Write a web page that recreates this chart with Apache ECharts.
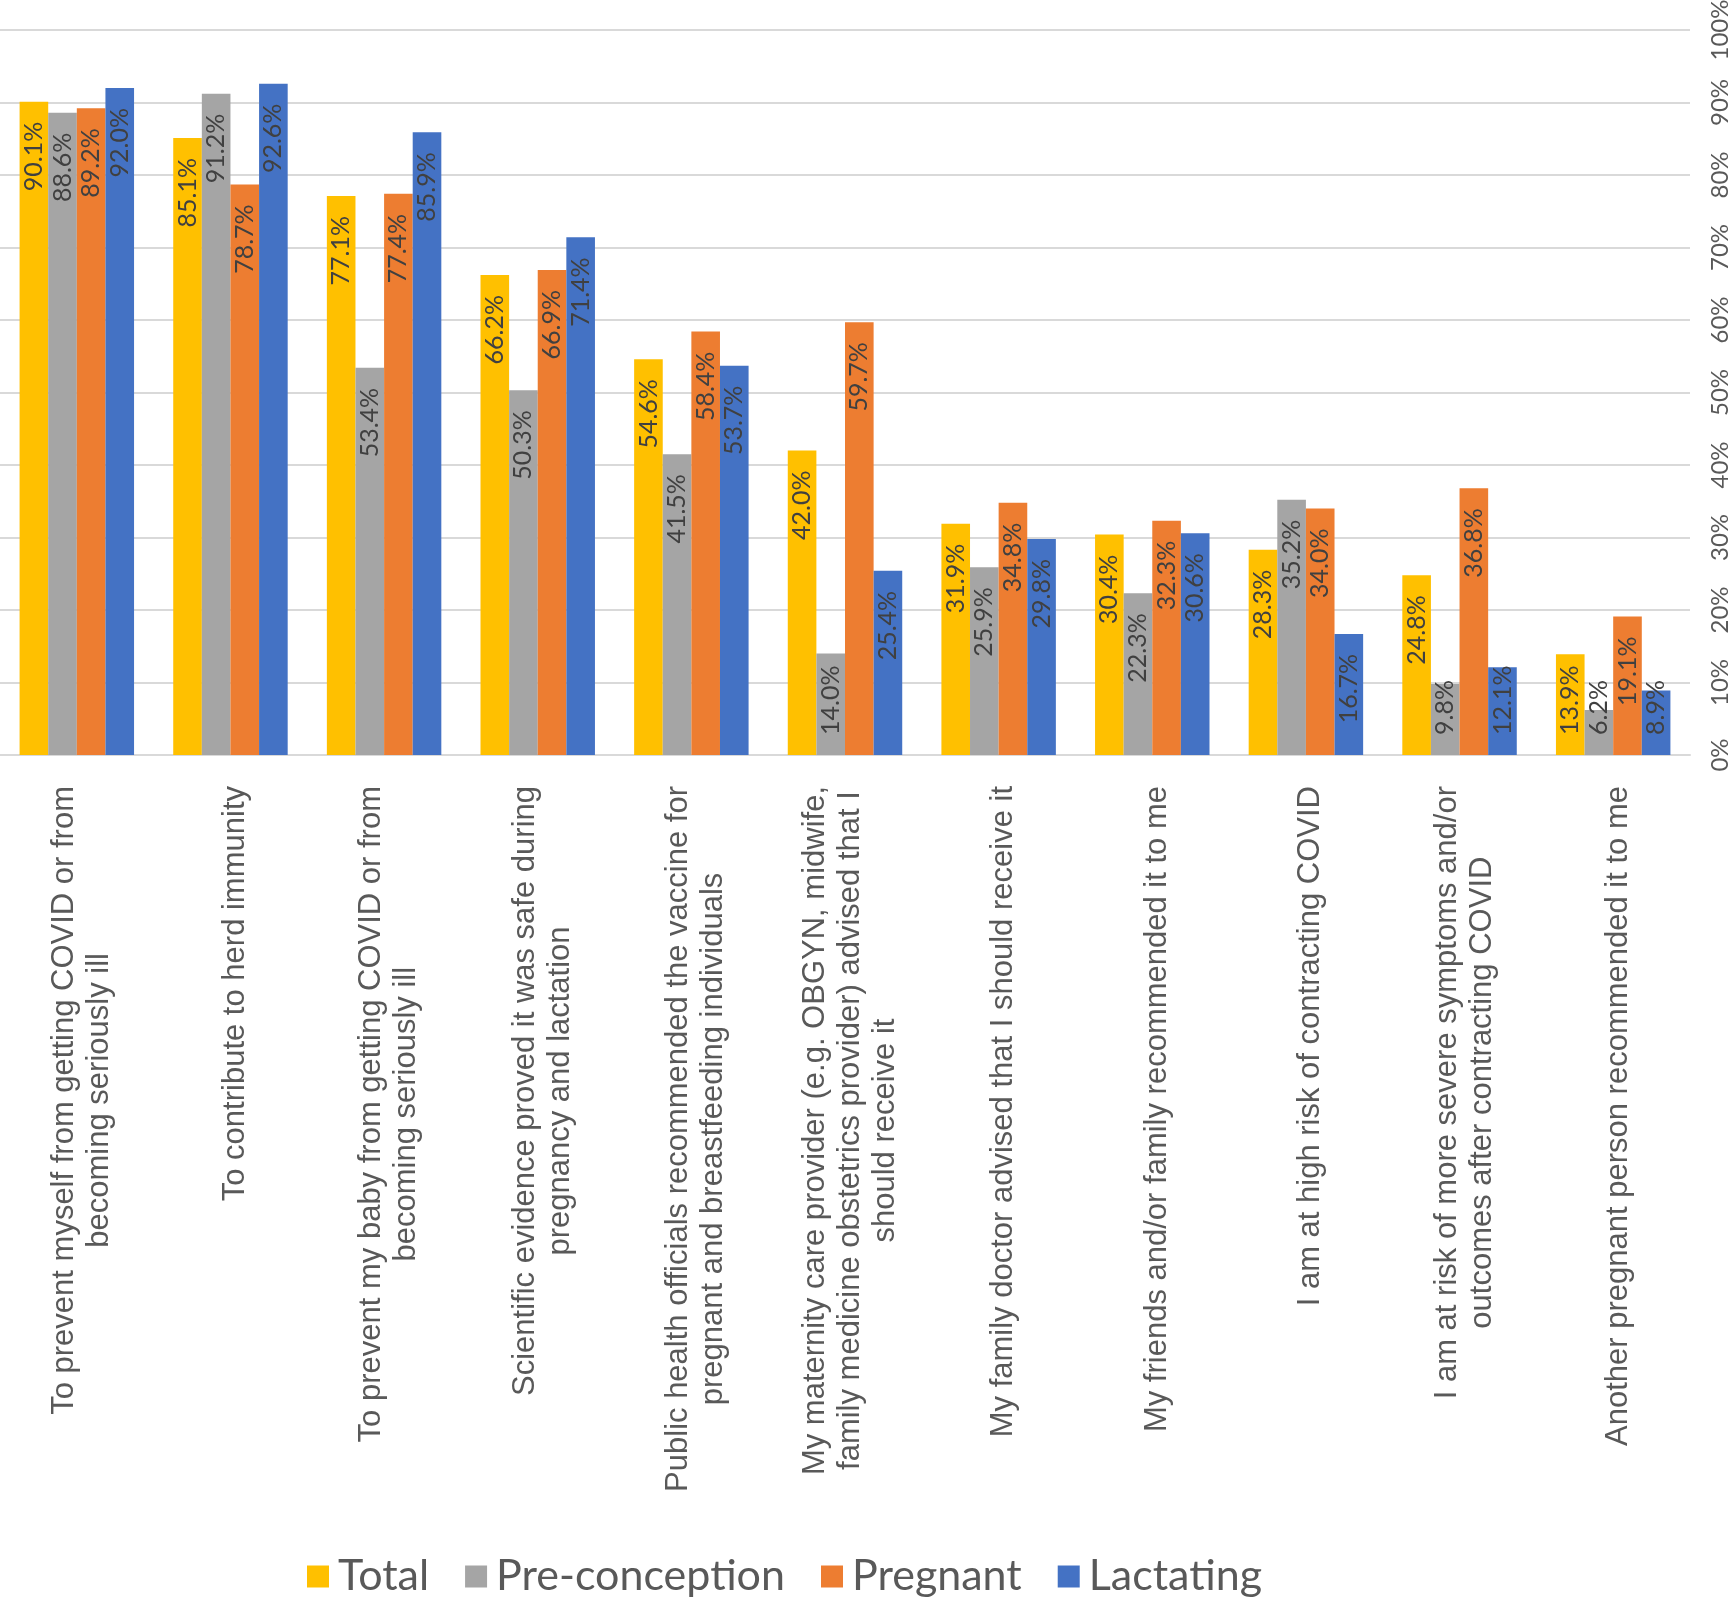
<!DOCTYPE html>
<html>
<head>
<meta charset="utf-8">
<script src="https://cdn.jsdelivr.net/npm/echarts@6/dist/echarts.min.js"></script>
<style>
  html, body { margin: 0; padding: 0; background: #fff; }
  #chart { width: 1735px; height: 1599px; }
</style>
</head>
<body>
<div id="chart"></div>
<script>
// categories (line breaks as in the figure)
const categories = [
  "To prevent myself from getting COVID or from\nbecoming seriously ill",
  "To contribute to herd immunity",
  "To prevent my baby from getting COVID or from\nbecoming seriously ill",
  "Scientific evidence proved it was safe during\npregnancy and lactation",
  "Public health officials recommended the vaccine for\npregnant and breastfeeding individuals",
  "My maternity care provider (e.g. OBGYN, midwife,\nfamily medicine obstetrics provider) advised that I\nshould receive it",
  "My family doctor advised that I should receive it",
  "My friends and/or family recommended it to me",
  "I am at high risk of contracting COVID",
  "I am at risk of more severe symptoms and/or\noutcomes after contracting COVID",
  "Another pregnant person recommended it to me"
];

const seriesNames = ["Total", "Pre-conception", "Pregnant", "Lactating"];

const total = [90.1, 85.1, 77.1, 66.2, 54.6, 42.0, 31.9, 30.4, 28.3, 24.8, 13.9];
const preConception = [88.6, 91.2, 53.4, 50.3, 41.5, 14.0, 25.9, 22.3, 35.2, 9.8, 6.2];
const pregnant = [89.2, 78.7, 77.4, 66.9, 58.4, 59.7, 34.8, 32.3, 34.0, 36.8, 19.1];
const lactating = [92.0, 92.6, 85.9, 71.4, 53.7, 25.4, 29.8, 30.6, 16.7, 12.1, 8.9];

const colors = ["#FFC000", "#A5A5A5", "#ED7D31", "#4472C4"];

// category label font
const catFont = "Liberation Sans";
const catSize = 31;

// widest line of each label, used to hang the centred block under the axis
const ctx = document.createElement("canvas").getContext("2d");
ctx.font = catSize + "px \"" + catFont + "\"";
const catWidths = categories.map((c) =>
  Math.max(...c.split("\n").map((s) => ctx.measureText(s).width))
);

// short bars: label sits near the base instead of the top
const toBarData = (arr) => arr.map((v) => {
  if (v < 15) {
    return {
      value: v,
      label: { position: "insideBottom", align: "left" }
    };
  }
  return v;
});

const chart = echarts.init(document.getElementById("chart"), null, { renderer: "canvas" });

const makeSeries = (name, arr) => ({
  name: name,
  type: "bar",
  data: toBarData(arr),
  barGap: "0%",
  barCategoryGap: "25.5%",
  label: {
    show: true,
    position: "insideTop",
    rotate: 90,
    align: "right",
    verticalAlign: "middle",
    distance: 20,
    color: "#404040",
    fontFamily: "Lato",
    fontSize: 25,
    formatter: (p) => p.value.toFixed(1) + "%"
  }
});

// category labels: rotated text blocks with centred lines
const labelSeries = {
  type: "custom",
  name: "labels",
  silent: true,
  clip: false,
  data: categories.map((c, i) => [i, 0]),
  renderItem: (params, api) => {
    const i = api.value(0);
    const pt = api.coord([i, 0]);
    return {
      type: "text",
      x: pt[0] + 5,
      y: pt[1] + 31 + catWidths[i] / 2,
      rotation: Math.PI / 2,
      style: {
        text: categories[i],
        fill: "#595959",
        fontFamily: catFont,
        fontSize: catSize,
        lineHeight: 35,
        align: "center",
        verticalAlign: "middle"
      }
    };
  }
};

chart.setOption({
  backgroundColor: "#fff",
  animation: false,
  color: colors,
  textStyle: { fontFamily: "Lato" },
  legend: {
    data: seriesNames,
    left: 302,
    top: 1550,
    icon: "rect",
    itemWidth: 22,
    itemHeight: 22,
    itemGap: 36,
    textStyle: { color: "#595959", fontSize: 43, fontFamily: "Lato", padding: [0, 0, 0, 4] }
  },
  grid: {
    left: 0,
    right: 45,
    top: 30,
    bottom: 844,
    outerBoundsMode: "none"
  },
  xAxis: {
    type: "category",
    data: categories,
    axisLine: { lineStyle: { color: "#d9d9d9", width: 2 } },
    axisTick: { show: false },
    axisLabel: { show: false }
  },
  yAxis: {
    type: "value",
    position: "right",
    min: 0,
    max: 100,
    interval: 10,
    axisLine: { show: false },
    axisTick: { show: false },
    splitLine: { lineStyle: { color: "#d9d9d9", width: 2 } },
    axisLabel: {
      rotate: 90,
      margin: 18,
      color: "#595959",
      fontFamily: "Lato",
      fontSize: 24,
      formatter: "{value}%"
    }
  },
  series: [
    makeSeries(seriesNames[0], total),
    makeSeries(seriesNames[1], preConception),
    makeSeries(seriesNames[2], pregnant),
    makeSeries(seriesNames[3], lactating),
    labelSeries
  ]
});
</script>
</body>
</html>
